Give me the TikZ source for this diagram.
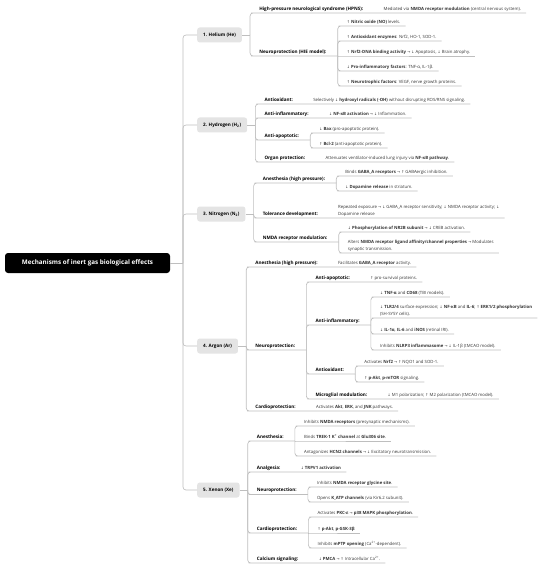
\documentclass[tikz,border=0pt]{standalone}
\usepackage{fontspec}
\setmainfont{Open Sans}
\newfontfamily\arrowfont{DejaVu Sans}
\usetikzlibrary{positioning}
\definecolor{linkgray}{RGB}{190,190,190}
\definecolor{gasfill}{RGB}{228,228,228}
\newcommand\mapfont{\fontsize{4.3}{7}\selectfont}
\newcommand\headfont{\fontsize{4.6}{7}\selectfont\bfseries}
\newcommand\upa{{\arrowfont\scalebox{0.85}{↑}}}
\newcommand\dna{{\arrowfont\scalebox{0.85}{↓}}}
\newcommand\toa{{\arrowfont\scalebox{0.85}{→}}}

\begin{document}
\begin{tikzpicture}[
  x=1pt, y=-1pt,
  root/.style={fill=black, text=white, rounded corners=3pt, minimum width=165pt,
               minimum height=20pt, font=\fontsize{6.3}{7}\selectfont\bfseries},
  gas/.style={anchor=west, fill=gasfill, rounded corners=2.5pt, minimum height=15pt,
              inner xsep=6pt, inner ysep=0pt, font=\fontsize{4.6}{5}\selectfont\bfseries},
  leaf/.style={anchor=south west, xshift=4pt, inner xsep=5pt, inner ysep=1.5pt,
               text depth=0.9pt, align=left, font=\mapfont, text=black!80},
  head/.style={leaf, font=\headfont, text=black},
  link/.style={draw=linkgray, line width=0.65pt, rounded corners=3pt}
]
  \useasboundingbox (0,0) rectangle (550,569);

  \node[root] (root) at (87.5,263) {Mechanisms of inert gas biological effects};
  \coordinate (spine) at (183,263);

  \node[gas] (he) at (197,35) {1. Helium (He)};
  \node[gas] (hy) at (197,125) {2. Hydrogen (H\textsubscript{2})};
  \node[gas] (ni) at (197,214) {3. Nitrogen (N\textsubscript{2})};
  \node[gas] (ar) at (197,346) {4. Argon (Ar)};
  \node[gas] (xe) at (197,490) {5. Xenon (Xe)};

  \draw[link] (root.east) -- (spine);
  \draw[link] (spine) |- (he.west);
  \draw[link] (spine) |- (hy.west);
  \draw[link] (spine) |- (ni.west);
  \draw[link] (spine) |- (ar.west);
  \draw[link] (spine) |- (xe.west);

  % helium
  \coordinate (hej) at ([xshift=8pt]he.east);
  \node[head] (he1) at (hej |- 0,13) {High-pressure neurological syndrome (HPNS):};
  \coordinate (he1j) at ([xshift=6pt]he1.south east);
  \node[leaf] (he1a) at (he1j) {Mediated via \textbf{NMDA receptor modulation} (central nervous system).};
  \node[head] (he2) at (hej |- 0,56) {Neuroprotection (HIE model):};
  \coordinate (he2j) at ([xshift=6pt]he2.south east);
  \node[leaf] (he2a) at (he2j |- 0,26) {\upa\ \textbf{Nitric oxide (NO)} levels.};
  \node[leaf] (he2b) at (he2j |- 0,41) {\upa\ \textbf{Antioxidant enzymes}: Nrf2, HO-1, SOD-1.};
  \node[leaf] (he2c) at (he2j |- 0,56) {\upa\ \textbf{Nrf2-DNA binding activity} \toa\ \dna\ Apoptosis, \dna\ Brain atrophy.};
  \node[leaf] (he2d) at (he2j |- 0,71) {\dna\ \textbf{Pro-inflammatory factors}: TNF-α, IL-1β.};
  \node[leaf] (he2e) at (he2j |- 0,86) {\upa\ \textbf{Neurotrophic factors}: VEGF, nerve growth proteins.};

  \draw[link] (he.east) -- (hej);
  \draw[link] (hej) |- (he1.south west) -- (he1j) -- (he1a.south east);
  \draw[link] (hej) |- (he2.south west) -- (he2j);
  \draw[link] (he2j) |- (he2a.south west) -- (he2a.south east);
  \draw[link] (he2j) |- (he2b.south west) -- (he2b.south east);
  \draw[link] (he2j) -- (he2c.south west) -- (he2c.south east);
  \draw[link] (he2j) |- (he2d.south west) -- (he2d.south east);
  \draw[link] (he2j) |- (he2e.south west) -- (he2e.south east);

  % hydrogen
  \coordinate (hyj) at ([xshift=8pt]hy.east);
  \node[head] (hy1) at (hyj |- 0,104) {Antioxidant:};
  \coordinate (hy1j) at ([xshift=6pt]hy1.south east);
  \node[leaf] (hy1a) at (hy1j) {Selectively \dna\ \textbf{hydroxyl radicals (·OH)} without disrupting ROS/RNS signaling.};
  \node[head] (hy2) at (hyj |- 0,118) {Anti-inflammatory:};
  \coordinate (hy2j) at ([xshift=6pt]hy2.south east);
  \node[leaf] (hy2a) at (hy2j) {\dna\ \textbf{NF-κB activation} \toa\ \dna\ Inflammation.};
  \node[head] (hy3) at (hyj |- 0,140) {Anti-apoptotic:};
  \coordinate (hy3j) at ([xshift=6pt]hy3.south east);
  \node[leaf] (hy3a) at (hy3j |- 0,133) {\dna\ \textbf{Bax} (pro-apoptotic protein).};
  \node[leaf] (hy3b) at (hy3j |- 0,148) {\upa\ \textbf{Bcl-2} (anti-apoptotic protein).};
  \node[head] (hy4) at (hyj |- 0,162) {Organ protection:};
  \coordinate (hy4j) at ([xshift=6pt]hy4.south east);
  \node[leaf] (hy4a) at (hy4j) {Attenuates ventilator-induced lung injury via \textbf{NF-κB pathway}.};

  \draw[link] (hy.east) -- (hyj);
  \draw[link] (hyj) |- (hy1.south west) -- (hy1j) -- (hy1a.south east);
  \draw[link] (hyj) |- (hy2.south west) -- (hy2j) -- (hy2a.south east);
  \draw[link] (hyj) |- (hy3.south west) -- (hy3j);
  \draw[link] (hy3j) |- (hy3a.south west) -- (hy3a.south east);
  \draw[link] (hy3j) |- (hy3b.south west) -- (hy3b.south east);
  \draw[link] (hyj) |- (hy4.south west) -- (hy4j) -- (hy4a.south east);

  % nitrogen
  \coordinate (nij) at ([xshift=8pt]ni.east);
  \node[head] (ni1) at (nij |- 0,183) {Anesthesia (high pressure):};
  \coordinate (ni1j) at ([xshift=6pt]ni1.south east);
  \node[leaf] (ni1a) at (ni1j |- 0,176) {Binds \textbf{GABA\_A receptors} \toa\ \upa\ GABAergic inhibition.};
  \node[leaf] (ni1b) at (ni1j |- 0,191) {\dna\ \textbf{Dopamine release} in striatum.};
  \node[head] (ni2) at (nij |- 0,218) {Tolerance development:};
  \coordinate (ni2j) at ([xshift=6pt]ni2.south east);
  \node[leaf] (ni2a) at (ni2j) {Repeated exposure \toa\ \dna\ GABA\_A receptor sensitivity; \dna\ NMDA receptor activity; \dna\\ Dopamine release};
  \node[head] (ni3) at (nij |- 0,242) {NMDA receptor modulation:};
  \coordinate (ni3j) at ([xshift=6pt]ni3.south east);
  \node[leaf] (ni3a) at (ni3j |- 0,232) {\dna\ \textbf{Phosphorylation of NR2B subunit} \toa\ \dna\ CREB activation.};
  \node[leaf] (ni3b) at (ni3j |- 0,253) {Alters \textbf{NMDA receptor ligand affinity/channel properties} \toa\ Modulates\\ synaptic transmission.};

  \draw[link] (ni.east) -- (nij);
  \draw[link] (nij) |- (ni1.south west) -- (ni1j);
  \draw[link] (ni1j) |- (ni1a.south west) -- (ni1a.south east);
  \draw[link] (ni1j) |- (ni1b.south west) -- (ni1b.south east);
  \draw[link] (nij) |- (ni2.south west) -- (ni2j) -- (ni2a.south east);
  \draw[link] (nij) |- (ni3.south west) -- (ni3j);
  \draw[link] (ni3j) |- (ni3a.south west) -- (ni3a.south east);
  \draw[link] (ni3j) |- (ni3b.south west) -- (ni3b.south east);

  % argon
  \coordinate (arj) at ([xshift=8pt]ar.east);
  \node[head] (ar1) at (arj |- 0,267) {Anesthesia (high pressure):};
  \coordinate (ar1j) at ([xshift=6pt]ar1.south east);
  \node[leaf] (ar1a) at (ar1j) {Facilitates \textbf{GABA\_A receptor} activity.};
  \node[head] (ar2) at (arj |- 0,350) {Neuroprotection:};
  \coordinate (ar2j) at ([xshift=6pt]ar2.south east);
  \node[head] (ar2a) at (ar2j |- 0,282) {Anti-apoptotic:};
  \coordinate (ar2aj) at ([xshift=6pt]ar2a.south east);
  \node[leaf] (ar2a1) at (ar2aj) {\upa\ pro-survival proteins.};
  \node[head] (ar2b) at (ar2j |- 0,325) {Anti-inflammatory:};
  \coordinate (ar2bj) at ([xshift=6pt]ar2b.south east);
  \node[leaf] (ar2b1) at (ar2bj |- 0,297) {\dna\ \textbf{TNF-α} and \textbf{CD68} (TBI models).};
  \node[leaf] (ar2b2) at (ar2bj |- 0,318) {\dna\ \textbf{TLR2/4} surface expression; \dna\ \textbf{NF-κB} and \textbf{IL-6}; \upa\ \textbf{ERK1/2 phosphorylation}\\ (SH-SY5Y cells).};
  \node[leaf] (ar2b3) at (ar2bj |- 0,334) {\dna\ \textbf{IL-1α}, \textbf{IL-6} and \textbf{iNOS} (retinal IRI).};
  \node[leaf] (ar2b4) at (ar2bj |- 0,350) {Inhibits \textbf{NLRP3 inflammasome} \toa\ \dna\ IL-1β (tMCAO model).};
  \node[head] (ar2c) at (ar2j |- 0,374) {Antioxidant:};
  \coordinate (ar2cj) at ([xshift=6pt]ar2c.south east);
  \node[leaf] (ar2c1) at (ar2cj |- 0,366) {Activates \textbf{Nrf2} \toa\ \upa\ NQO1 and SOD-1.};
  \node[leaf] (ar2c2) at (ar2cj |- 0,382) {\upa\ \textbf{p-Akt}, \textbf{p-mTOR} signaling.};
  \node[head] (ar2d) at (ar2j |- 0,399) {Microglial modulation:};
  \coordinate (ar2dj) at ([xshift=6pt]ar2d.south east);
  \node[leaf] (ar2d1) at (ar2dj) {\dna\ M1 polarization; \upa\ M2 polarization (tMCAO model).};
  \node[head] (ar3) at (arj |- 0,411) {Cardioprotection:};
  \coordinate (ar3j) at ([xshift=6pt]ar3.south east);
  \node[leaf] (ar3a) at (ar3j) {Activates \textbf{Akt}, \textbf{ERK}, and \textbf{JNK} pathways.};

  \draw[link] (ar.east) -- (arj);
  \draw[link] (arj) |- (ar1.south west) -- (ar1j) -- (ar1a.south east);
  \draw[link] (arj) |- (ar2.south west) -- (ar2j);
  \draw[link] (ar2j) |- (ar2a.south west) -- (ar2aj) -- (ar2a1.south east);
  \draw[link] (ar2j) |- (ar2b.south west) -- (ar2bj);
  \draw[link] (ar2bj) |- (ar2b1.south west) -- (ar2b1.south east);
  \draw[link] (ar2bj) |- (ar2b2.south west) -- (ar2b2.south east);
  \draw[link] (ar2bj) |- (ar2b3.south west) -- (ar2b3.south east);
  \draw[link] (ar2bj) |- (ar2b4.south west) -- (ar2b4.south east);
  \draw[link] (ar2j) |- (ar2c.south west) -- (ar2cj);
  \draw[link] (ar2cj) |- (ar2c1.south west) -- (ar2c1.south east);
  \draw[link] (ar2cj) |- (ar2c2.south west) -- (ar2c2.south east);
  \draw[link] (ar2j) |- (ar2d.south west) -- (ar2dj) -- (ar2d1.south east);
  \draw[link] (arj) |- (ar3.south west) -- (ar3j) -- (ar3a.south east);

  % xenon
  \coordinate (xej) at ([xshift=8pt]xe.east);
  \node[head] (xe1) at (xej |- 0,441) {Anesthesia:};
  \coordinate (xe1j) at ([xshift=6pt]xe1.south east);
  \node[leaf] (xe1a) at (xe1j |- 0,426) {Inhibits \textbf{NMDA receptors} (presynaptic mechanisms).};
  \node[leaf] (xe1b) at (xe1j |- 0,441) {Binds \textbf{TREK-1 K\textsuperscript{+} channel} at \textbf{Glu306 site}.};
  \node[leaf] (xe1c) at (xe1j |- 0,456) {Antagonizes \textbf{HCN2 channels} \toa\ \dna\ Excitatory neurotransmission.};
  \node[head] (xe2) at (xej |- 0,472) {Analgesia:};
  \coordinate (xe2j) at ([xshift=6pt]xe2.south east);
  \node[leaf] (xe2a) at (xe2j) {\dna\ \textbf{TRPV1 activation}};
  \node[head] (xe3) at (xej |- 0,494.5) {Neuroprotection:};
  \coordinate (xe3j) at ([xshift=6pt]xe3.south east);
  \node[leaf] (xe3a) at (xe3j |- 0,487) {Inhibits \textbf{NMDA receptor glycine site}.};
  \node[leaf] (xe3b) at (xe3j |- 0,502) {Opens \textbf{K\_ATP channels} (via Kir6.2 subunit).};
  \node[head] (xe4) at (xej |- 0,533) {Cardioprotection:};
  \coordinate (xe4j) at ([xshift=6pt]xe4.south east);
  \node[leaf] (xe4a) at (xe4j |- 0,517) {Activates \textbf{PKC-ε} \toa\ \textbf{p38 MAPK phosphorylation}.};
  \node[leaf] (xe4b) at (xe4j |- 0,533) {\upa\ \textbf{p-Akt}, \textbf{p-GSK-3β}};
  \node[leaf] (xe4c) at (xe4j |- 0,548) {Inhibits \textbf{mPTP opening} (Ca\textsuperscript{2+}-dependent).};
  \node[head] (xe5) at (xej |- 0,563) {Calcium signaling:};
  \coordinate (xe5j) at ([xshift=6pt]xe5.south east);
  \node[leaf] (xe5a) at (xe5j) {\dna\ \textbf{PMCA} \toa\ \upa\ Intracellular Ca\textsuperscript{2+}.};

  \draw[link] (xe.east) -- (xej);
  \draw[link] (xej) |- (xe1.south west) -- (xe1j);
  \draw[link] (xe1j) |- (xe1a.south west) -- (xe1a.south east);
  \draw[link] (xe1j) -- (xe1b.south west) -- (xe1b.south east);
  \draw[link] (xe1j) |- (xe1c.south west) -- (xe1c.south east);
  \draw[link] (xej) |- (xe2.south west) -- (xe2j) -- (xe2a.south east);
  \draw[link] (xej) |- (xe3.south west) -- (xe3j);
  \draw[link] (xe3j) |- (xe3a.south west) -- (xe3a.south east);
  \draw[link] (xe3j) |- (xe3b.south west) -- (xe3b.south east);
  \draw[link] (xej) |- (xe4.south west) -- (xe4j);
  \draw[link] (xe4j) |- (xe4a.south west) -- (xe4a.south east);
  \draw[link] (xe4j) -- (xe4b.south west) -- (xe4b.south east);
  \draw[link] (xe4j) |- (xe4c.south west) -- (xe4c.south east);
  \draw[link] (xej) |- (xe5.south west) -- (xe5j) -- (xe5a.south east);
\end{tikzpicture}
\end{document}
